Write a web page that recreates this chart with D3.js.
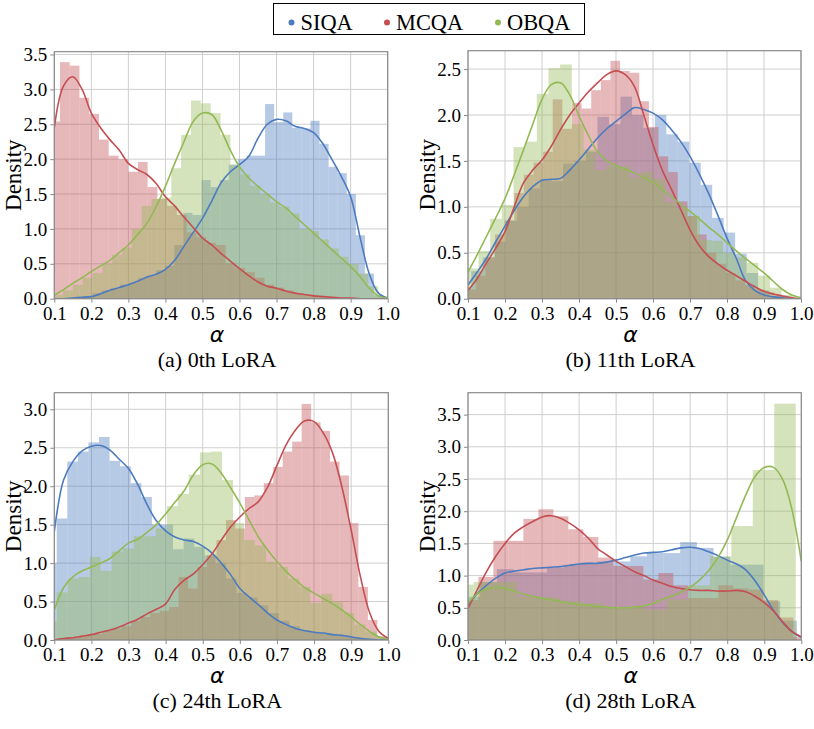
<!DOCTYPE html>
<html lang="en">
<head>
<meta charset="utf-8"/>
<title>Alpha density per LoRA</title>
<script src="https://d3js.org/d3.v7.min.js"></script>
<style>
  body{margin:0;background:#ffffff;}
  svg text{font-family:'Liberation Serif','Times New Roman',serif;fill:#000;}
</style>
</head>
<body>
<svg id="chart" width="814" height="729"></svg>
<script>
// ---- data ----
const seriesNames = ['SIQA', 'MCQA', 'OBQA'];
const captions = ['(a) 0th LoRA', '(b) 11th LoRA', '(c) 24th LoRA', '(d) 28th LoRA'];
const xTickValues = [0.1, 0.2, 0.3, 0.4, 0.5, 0.6, 0.7, 0.8, 0.9, 1.0];
const yTicksA = [0, 0.5, 1, 1.5, 2, 2.5, 3, 3.5];
const yTicksB = [0, 0.5, 1, 1.5, 2, 2.5];
const yTicksC = [0, 0.5, 1, 1.5, 2, 2.5, 3];
const yTicksD = [0, 0.5, 1, 1.5, 2, 2.5, 3, 3.5];

// KDE curves, sampled at these alpha values
const kdeX = [0.1, 0.125, 0.15, 0.175, 0.2, 0.225, 0.25, 0.275, 0.3, 0.325, 0.35, 0.375, 0.4,
  0.425, 0.45, 0.475, 0.5, 0.525, 0.55, 0.575, 0.6, 0.625, 0.65, 0.675, 0.7, 0.725, 0.75,
  0.775, 0.8, 0.825, 0.85, 0.875, 0.9, 0.925, 0.95, 0.975, 1.0];

const kdeA_SIQA = [0.00,0.00,0.01,0.02,0.03,0.07,0.12,0.16,0.20,0.25,0.31,0.35,0.42,0.55,0.75,0.95,1.15,1.40,1.66,1.82,1.92,2.04,2.30,2.50,2.57,2.55,2.47,2.44,2.38,2.22,1.99,1.75,1.46,0.89,0.36,0.08,0.01];
const kdeA_MCQA = [2.45,3.05,3.18,3.00,2.66,2.45,2.28,2.13,1.94,1.85,1.78,1.65,1.46,1.33,1.17,1.02,0.87,0.77,0.65,0.54,0.43,0.33,0.24,0.18,0.15,0.11,0.08,0.06,0.04,0.03,0.02,0.01,0.01,0.00,0.00,0.00,0.00];
const kdeA_OBQA = [0.05,0.13,0.22,0.30,0.39,0.47,0.55,0.66,0.77,0.92,1.08,1.32,1.61,1.94,2.25,2.54,2.66,2.64,2.42,2.13,1.89,1.73,1.61,1.50,1.39,1.30,1.18,1.06,0.94,0.82,0.70,0.58,0.46,0.32,0.15,0.04,0.01];

const kdeB_SIQA = [0.15,0.29,0.44,0.62,0.79,0.96,1.11,1.22,1.29,1.30,1.31,1.40,1.51,1.63,1.75,1.85,1.93,2.01,2.08,2.06,2.02,1.95,1.84,1.71,1.55,1.36,1.15,0.91,0.66,0.44,0.20,0.09,0.04,0.02,0.01,0.00,0.00];
const kdeB_MCQA = [0.09,0.22,0.39,0.55,0.73,1.00,1.26,1.40,1.51,1.66,1.84,2.00,2.13,2.25,2.35,2.44,2.48,2.44,2.31,2.00,1.68,1.40,1.19,0.97,0.75,0.58,0.46,0.38,0.31,0.25,0.19,0.13,0.08,0.05,0.03,0.01,0.00];
const kdeB_OBQA = [0.29,0.48,0.68,0.88,1.09,1.35,1.62,1.90,2.17,2.33,2.35,2.22,1.99,1.78,1.60,1.50,1.45,1.41,1.37,1.32,1.27,1.19,1.11,1.03,0.95,0.87,0.78,0.70,0.61,0.52,0.44,0.36,0.28,0.19,0.10,0.04,0.01];

const kdeC_SIQA = [1.41,2.08,2.32,2.46,2.52,2.53,2.47,2.35,2.23,2.02,1.76,1.55,1.42,1.34,1.30,1.28,1.22,1.13,1.00,0.85,0.67,0.56,0.46,0.35,0.26,0.20,0.15,0.12,0.10,0.09,0.07,0.06,0.04,0.02,0.01,0.00,0.00];
const kdeC_MCQA = [0.00,0.02,0.03,0.05,0.07,0.10,0.13,0.17,0.22,0.27,0.34,0.40,0.47,0.66,0.78,0.86,0.98,1.12,1.30,1.47,1.60,1.71,1.80,1.99,2.27,2.54,2.73,2.85,2.84,2.69,2.43,1.99,1.43,0.82,0.35,0.11,0.02];
const kdeC_OBQA = [0.39,0.68,0.82,0.90,0.95,1.00,1.06,1.16,1.26,1.31,1.40,1.50,1.64,1.79,1.94,2.15,2.28,2.29,2.17,1.98,1.78,1.56,1.34,1.17,1.02,0.89,0.78,0.68,0.61,0.54,0.47,0.39,0.30,0.20,0.11,0.04,0.01];

const kdeD_SIQA = [0.55,0.72,0.85,0.96,1.04,1.07,1.09,1.11,1.12,1.13,1.14,1.16,1.18,1.19,1.19,1.21,1.24,1.28,1.32,1.35,1.36,1.37,1.40,1.43,1.44,1.42,1.37,1.31,1.24,1.18,1.09,0.92,0.70,0.46,0.27,0.13,0.04];
const kdeD_MCQA = [0.49,0.78,1.06,1.30,1.50,1.66,1.76,1.84,1.91,1.93,1.89,1.81,1.71,1.58,1.42,1.32,1.22,1.14,1.06,1.00,0.93,0.88,0.83,0.80,0.78,0.77,0.77,0.76,0.76,0.77,0.75,0.68,0.58,0.45,0.28,0.13,0.05];
const kdeD_OBQA = [0.57,0.72,0.79,0.82,0.80,0.76,0.71,0.68,0.65,0.62,0.60,0.57,0.55,0.54,0.52,0.51,0.50,0.50,0.51,0.53,0.57,0.63,0.68,0.74,0.82,0.93,1.08,1.28,1.55,1.90,2.25,2.54,2.68,2.68,2.49,2.02,1.22];

// histogram bins: first edge and bin width (alpha units) per series, then heights
const histStartA = [0.130, 0.089, 0.0966];
const histWidthA = [0.0245, 0.0263, 0.0266];
const histA_SIQA = [0.01,0.02,0.04,0.08,0.12,0.15,0.20,0.23,0.30,0.33,0.41,0.47,0.77,1.23,1.20,1.70,1.60,1.70,1.92,2.00,2.05,2.05,2.79,2.53,2.67,2.45,2.44,2.55,2.22,1.89,1.80,1.50,0.91,0.36,0.05];
const histA_MCQA = [2.54,3.39,3.34,2.88,2.65,2.28,2.05,2.00,1.82,1.96,1.60,1.43,1.33,1.20,0.95,0.88,0.80,0.77,0.51,0.44,0.38,0.30,0.20,0.16,0.12,0.08,0.06,0.04,0.02,0.01,0.005];
const histA_OBQA = [0.05,0.12,0.20,0.30,0.37,0.50,0.63,0.73,1.00,1.33,1.43,1.45,1.87,2.35,2.84,2.80,2.66,2.35,1.92,1.78,1.62,1.50,1.38,1.32,1.22,1.00,0.97,0.85,0.72,0.60,0.50,0.36,0.18,0.03];

const histStartB = [0.078, 0.095, 0.097];
const histWidthB = [0.031, 0.026, 0.0315];
const histB_SIQA = [0.12,0.30,0.45,0.62,0.85,1.00,1.20,1.30,1.28,1.47,1.50,1.60,1.98,1.90,2.20,2.00,1.86,2.00,1.79,1.71,1.48,1.24,0.88,0.72,0.49,0.28,0.09,0.03];
const histB_MCQA = [0.10,0.25,0.45,0.70,0.85,1.15,1.35,1.48,1.60,2.17,1.85,2.13,2.07,2.27,2.38,2.59,2.48,2.46,2.15,1.87,1.55,1.38,1.06,0.90,0.70,0.50,0.38,0.28,0.20,0.15,0.10,0.07,0.03];
const histB_OBQA = [0.33,0.52,0.87,1.02,1.65,1.71,2.23,2.51,2.55,1.90,1.62,1.40,1.45,1.44,1.32,1.38,1.30,1.05,0.98,0.90,0.64,0.63,0.50,0.45,0.39,0.25,0.12,0.04,0.01];

const histStartC = [0.078, 0.078, 0.0766];
const histWidthC = [0.0285, 0.0255, 0.0297];
const histC_SIQA = [1.00,1.58,2.32,2.45,2.57,2.64,2.33,2.26,2.04,1.86,1.50,1.50,1.18,1.32,1.21,1.10,1.00,0.80,0.61,0.55,0.45,0.35,0.25,0.18,0.13,0.10,0.09,0.07,0.05,0.03,0.01];
const histC_MCQA = [0.01,0.02,0.03,0.04,0.06,0.08,0.12,0.15,0.18,0.25,0.30,0.35,0.38,0.43,0.82,0.67,0.95,1.10,1.30,1.56,1.45,1.86,1.88,2.04,2.25,2.45,2.58,3.07,2.83,2.72,2.32,2.14,1.52,0.69,0.26,0.05];
const histC_OBQA = [0.24,0.62,0.80,0.82,1.08,0.90,1.15,1.19,1.35,1.35,1.45,1.74,1.90,2.15,2.44,2.45,2.08,1.52,1.30,1.23,1.02,0.95,0.80,0.69,0.48,0.60,0.50,0.35,0.20,0.11,0.04];

const histStartD = [0.088, 0.0875, 0.057];
const histWidthD = [0.045, 0.0405, 0.058];
const histD_SIQA = [0.67,0.90,1.10,1.05,1.05,1.12,1.17,1.20,1.22,1.22,1.30,1.35,1.35,1.52,1.43,1.29,1.17,1.17,0.60,0.30];
const histD_MCQA = [0.62,0.98,1.54,1.54,1.88,2.03,1.92,1.72,1.60,1.28,1.15,1.15,0.94,1.04,0.85,0.65,0.65,0.85,0.80,0.78,0.62,0.35,0.05];
const histD_OBQA = [0.86,0.90,0.90,0.67,0.66,0.60,0.57,0.50,0.50,0.47,0.63,0.85,1.30,1.77,2.64,3.67];

// ---- layout ----
const SERIF = "'Liberation Serif','Times New Roman',serif";
const colors = ['#4c7bbf', '#c44e52', '#93b954'];
const panels = [
  {box: {left: 54.3, right: 387.7, top: 51.7, bottom: 298.7}, yMax: 3.54, yTicks: yTicksA,
   kde: [kdeA_SIQA, kdeA_MCQA, kdeA_OBQA], start: histStartA, width: histWidthA,
   hist: [histA_SIQA, histA_MCQA, histA_OBQA]},
  {box: {left: 468, right: 801, top: 50.7, bottom: 298.7}, yMax: 2.70, yTicks: yTicksB,
   kde: [kdeB_SIQA, kdeB_MCQA, kdeB_OBQA], start: histStartB, width: histWidthB,
   hist: [histB_SIQA, histB_MCQA, histB_OBQA]},
  {box: {left: 54.3, right: 388.3, top: 392.7, bottom: 640}, yMax: 3.216, yTicks: yTicksC,
   kde: [kdeC_SIQA, kdeC_MCQA, kdeC_OBQA], start: histStartC, width: histWidthC,
   hist: [histC_SIQA, histC_MCQA, histC_OBQA]},
  {box: {left: 468, right: 801.3, top: 392.7, bottom: 640}, yMax: 3.84, yTicks: yTicksD,
   kde: [kdeD_SIQA, kdeD_MCQA, kdeD_OBQA], start: histStartD, width: histWidthD,
   hist: [histD_SIQA, histD_MCQA, histD_OBQA]}
];

const svg = d3.select('#chart');
const fmt = d3.format('.1f');

panels.forEach((p, pi) => {
  const b = p.box;
  const x = d3.scaleLinear().domain([0.1, 1.0]).range([b.left, b.right]);
  const y = d3.scaleLinear().domain([0, p.yMax]).range([b.bottom, b.top]);
  const g = svg.append('g');

  const clipId = 'clip' + pi;
  svg.append('clipPath').attr('id', clipId).append('rect')
    .attr('x', b.left).attr('y', b.top)
    .attr('width', b.right - b.left).attr('height', b.bottom - b.top);

  // grid
  g.append('g').selectAll('line').data(xTickValues).join('line')
    .attr('x1', d => x(d)).attr('x2', d => x(d))
    .attr('y1', b.top).attr('y2', b.bottom)
    .attr('stroke', '#cfcfcf').attr('stroke-width', 1);
  g.append('g').selectAll('line').data(p.yTicks).join('line')
    .attr('x1', b.left).attr('x2', b.right)
    .attr('y1', d => y(d)).attr('y2', d => y(d))
    .attr('stroke', '#cfcfcf').attr('stroke-width', 1);

  // histogram bars
  const plot = g.append('g').attr('clip-path', `url(#${clipId})`);
  seriesNames.forEach((name, si) => {
    const bins = p.hist[si].map((h, i) => ({
      x0: p.start[si] + i * p.width[si],
      x1: p.start[si] + (i + 1) * p.width[si],
      h
    }));
    plot.append('g').selectAll('rect').data(bins).join('rect')
      .attr('x', d => x(d.x0))
      .attr('width', d => x(d.x1) - x(d.x0))
      .attr('y', d => y(d.h))
      .attr('height', d => y(0) - y(d.h))
      .attr('fill', colors[si])
      .attr('fill-opacity', 0.4);
  });

  // kde lines
  const line = d3.line()
    .x(d => x(d[0])).y(d => y(d[1]))
    .curve(d3.curveCatmullRom.alpha(0.5));
  seriesNames.forEach((name, si) => {
    plot.append('path')
      .datum(kdeX.map((v, i) => [v, p.kde[si][i]]))
      .attr('d', line)
      .attr('fill', 'none')
      .attr('stroke', colors[si])
      .attr('stroke-width', 1.6);
  });

  // frame
  g.append('rect')
    .attr('x', b.left).attr('y', b.top)
    .attr('width', b.right - b.left).attr('height', b.bottom - b.top)
    .attr('fill', 'none').attr('stroke', '#8a8a8a').attr('stroke-width', 1.2);

  // axes
  const xAxis = g.append('g').attr('transform', `translate(0,${b.bottom})`)
    .call(d3.axisBottom(x).tickValues(xTickValues).tickFormat(fmt).tickSize(4).tickPadding(4));
  const yAxis = g.append('g').attr('transform', `translate(${b.left},0)`)
    .call(d3.axisLeft(y).tickValues(p.yTicks).tickFormat(fmt).tickSize(4).tickPadding(3));
  [xAxis, yAxis].forEach(a => {
    a.select('.domain').remove();
    a.selectAll('line').attr('stroke', '#8a8a8a');
    a.selectAll('text')
      .style('font-family', SERIF)
      .style('font-size', '19px').style('fill', '#000');
  });

  const cx = (b.left + b.right) / 2 - 4;
  // y label
  g.append('text')
    .attr('transform', `translate(${b.left - 33},${(b.top + b.bottom) / 2}) rotate(-90)`)
    .attr('text-anchor', 'middle')
    .style('font-family', SERIF)
    .style('font-size', '23px')
    .text('Density');
  // x label (alpha)
  g.append('text')
    .attr('x', cx).attr('y', b.bottom + 43)
    .attr('text-anchor', 'middle')
    .style('font-family', "'DejaVu Sans',sans-serif")
    .style('font-style', 'italic')
    .style('font-size', '22px')
    .text('α');
  // caption
  g.append('text')
    .attr('x', cx).attr('y', b.bottom + 68)
    .attr('text-anchor', 'middle')
    .style('font-family', SERIF)
    .style('font-size', '22px')
    .text(captions[pi]);
});

// legend
const legend = svg.append('g');
legend.append('rect')
  .attr('x', 273.5).attr('y', 3.5).attr('width', 311).attr('height', 31)
  .attr('fill', '#fff').attr('stroke', '#000').attr('stroke-width', 1);
const legendX = [291.5, 387, 498];
seriesNames.forEach((name, si) => {
  legend.append('circle')
    .attr('cx', legendX[si]).attr('cy', 22.5).attr('r', 3)
    .attr('fill', colors[si]);
  legend.append('text')
    .attr('x', legendX[si] + 9).attr('y', 30)
    .style('font-family', SERIF)
    .style('font-size', '22.4px')
    .text(name);
});
</script>
</body>
</html>
